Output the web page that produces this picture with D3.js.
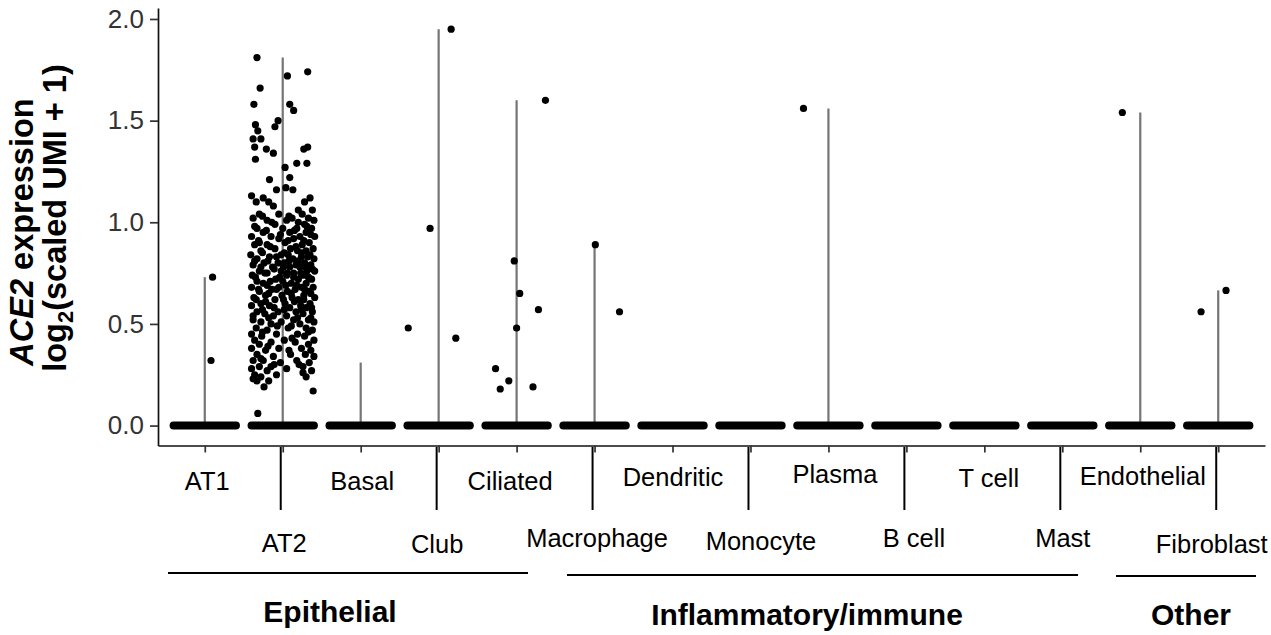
<!DOCTYPE html>
<html><head><meta charset="utf-8">
<script src="https://cdn.jsdelivr.net/npm/d3@7"></script>
<style>body{margin:0;background:#fff} svg{display:block}</style>
</head><body><svg id="c" width="1271" height="635"></svg>
<script>
// ---------------- DATA ----------------
const categories = ["AT1","AT2","Basal","Club","Ciliated","Macrophage","Dendritic","Monocyte","Plasma","B cell","T cell","Mast","Endothelial","Fibroblast"];
// height of the (degenerate) violin = max expression in each cell type
const violinMax = [0.73,1.81,0.31,1.95,1.60,0.89,0,0,1.56,0,0,0,1.54,0.665];
const yTicks = [0,0.5,1,1.5,2];
const groupNames = ["Epithelial","Inflammatory/immune","Other"];
const yTitle1 = ["ACE2"," expression"];
const yTitle2 = ["log","2","(scaled UMI + 1)"];
// non-zero cells: [jitter (fraction of band), value]
const at2Points = [
[-0.33,1.81],[0.06,1.72],[0.32,1.74],[-0.29,1.66],[-0.37,1.58],[0.09,1.58],[0.14,1.55],[-0.35,1.48],[-0.32,1.45],[-0.06,1.50],
[-0.10,1.47],[-0.38,1.41],[-0.28,1.41],[-0.36,1.37],[-0.21,1.36],[-0.12,1.34],[0.27,1.36],[0.32,1.37],[-0.35,1.31],[0.18,1.29],
[0.31,1.29],[0.03,1.27],[-0.17,1.21],[0.09,1.22],[-0.08,1.16],[0.04,1.17],[0.13,1.16],[-0.40,1.13],[-0.34,1.10],[-0.25,1.12],
[-0.18,1.10],[0.28,1.10],[0.35,1.12],[-0.12,1.08],[0.20,1.06],[0.38,1.06],
[-0.30,1.04],[-0.05,1.04],[0.25,1.04],[-0.38,1.02],[0.12,1.02],[0.33,1.02],[-0.20,1.01],[0.05,1.01],[0.40,1.01],[-0.10,0.99],[0.28,0.99],
[-0.33,0.97],[0.00,0.97],[0.18,0.97],[0.37,0.97],[-0.25,0.95],[0.09,0.95],[0.30,0.95],[-0.40,0.93],[-0.15,0.93],[0.22,0.93],[0.41,0.93],
[-0.05,0.92],[0.14,0.92],[-0.30,0.90],[0.03,0.90],[0.34,0.90],[-0.20,0.89],[0.25,0.89],[-0.36,0.89],[-0.10,0.87],[0.10,0.87],[0.39,0.87],
[-0.28,0.86],[0.19,0.86],[0.30,0.86],[-0.41,0.84],[-0.02,0.84],[0.07,0.84],[0.35,0.84],[-0.17,0.83],[0.24,0.83],[-0.33,0.82],[0.13,0.82],[0.40,0.82],
[-0.24,0.80],[-0.06,0.80],[0.02,0.80],[0.28,0.80],[-0.38,0.79],[0.17,0.79],[0.36,0.79],[-0.13,0.78],[0.09,0.78],[0.22,0.78],
[-0.30,0.76],[-0.02,0.76],[0.31,0.76],[0.41,0.76],[-0.20,0.75],[0.14,0.75],[-0.39,0.74],[0.05,0.74],[0.26,0.74],[-0.09,0.72],[0.20,0.72],[0.37,0.72],
[-0.33,0.71],[-0.16,0.71],[0.00,0.71],[-0.25,0.70],[0.11,0.70],[0.30,0.70],[-0.40,0.68],[-0.05,0.68],[0.24,0.68],[0.39,0.68],[-0.14,0.67],[0.16,0.67],
[-0.30,0.66],[0.06,0.66],[0.33,0.66],[-0.22,0.64],[-0.01,0.64],[0.27,0.64],[-0.37,0.63],[0.12,0.63],[0.41,0.63],[-0.10,0.62],[0.20,0.62],
[-0.28,0.60],[0.03,0.60],[0.35,0.60],[-0.40,0.59],[-0.17,0.59],[0.23,0.59],[0.09,0.58],[0.30,0.58],[-0.33,0.56],[-0.06,0.56],[0.17,0.56],[0.38,0.56],
[-0.23,0.55],[0.26,0.55],[-0.12,0.54],[0.05,0.54],[-0.38,0.52],[0.14,0.52],[0.33,0.52],[-0.28,0.51],[-0.02,0.51],[0.40,0.51],[-0.15,0.50],[0.22,0.50],
[-0.34,0.48],[0.07,0.48],[0.30,0.48],[-0.20,0.47],[0.38,0.47],[-0.40,0.45],[-0.08,0.45],[0.19,0.45],[-0.27,0.44],[0.28,0.44],[-0.36,0.42],[0.02,0.42],[0.40,0.42],
[-0.15,0.41],[0.16,0.41],[-0.30,0.40],[0.33,0.40],[-0.40,0.38],[-0.05,0.38],[0.24,0.38],[-0.22,0.37],[0.36,0.37],[-0.33,0.35],[0.10,0.35],[0.29,0.35],
[-0.12,0.34],[0.40,0.34],[-0.38,0.32],[-0.25,0.32],[0.18,0.32],[-0.03,0.31],[0.34,0.31],[-0.30,0.29],[-0.15,0.29],[0.26,0.29],[-0.40,0.28],[0.05,0.28],
[-0.20,0.27],[0.37,0.27],[-0.36,0.25],[-0.08,0.25],[0.30,0.24],[-0.28,0.24],[0.26,0.26],[-0.33,0.22],[-0.18,0.22],[-0.24,0.19],[0.39,0.17],[-0.32,0.06],
[-0.26,1.03],[0.08,1.03],[-0.14,1.00],[0.20,1.00],[-0.36,0.98],[0.31,0.98],[-0.21,0.96],[0.15,0.96],[-0.03,0.94],[0.36,0.94],[-0.31,0.91],[0.07,0.91],
[0.27,0.91],[-0.16,0.88],[0.17,0.88],[-0.26,0.85],[0.02,0.85],[0.24,0.85],[-0.08,0.83],[0.32,0.83],[-0.36,0.81],[-0.19,0.81],[0.08,0.81],[0.20,0.81],
[-0.28,0.78],[0.01,0.78],[0.29,0.78],[-0.11,0.77],[0.38,0.77],[-0.23,0.75],[0.06,0.75],[0.23,0.75],[-0.35,0.73],[-0.04,0.73],[0.14,0.73],[0.33,0.73],
[-0.20,0.69],[0.04,0.69],[0.18,0.69],[-0.31,0.67],[-0.08,0.67],[0.28,0.67],[-0.18,0.65],[0.11,0.65],[0.36,0.65],[-0.34,0.62],[0.01,0.62],[0.27,0.62],
[-0.22,0.61],[0.15,0.61],[-0.11,0.58],[0.37,0.58],[-0.26,0.57],[0.02,0.57],[0.24,0.57],[-0.38,0.54],[-0.18,0.53],[0.19,0.53],[0.36,0.53],[-0.07,0.49],
[0.11,0.49],[-0.26,0.46],[0.33,0.46],[0.12,0.43],[-0.19,0.39],[0.08,0.37],[-0.28,0.33],[0.21,0.30],[-0.11,0.30],[-0.38,0.23]
];
const otherPoints = [
["AT1",0.10,0.73],["AT1",0.08,0.32],
["Club",0.16,1.95],["Club",-0.11,0.97],["Club",-0.39,0.48],["Club",0.22,0.43],
["Ciliated",0.37,1.60],["Ciliated",-0.03,0.81],["Ciliated",0.04,0.65],["Ciliated",0.28,0.57],["Ciliated",0.00,0.48],
["Ciliated",-0.27,0.28],["Ciliated",-0.10,0.22],["Ciliated",-0.21,0.18],["Ciliated",0.21,0.19],
["Macrophage",0.01,0.89],["Macrophage",0.32,0.56],
["Plasma",-0.32,1.56],
["Endothelial",-0.23,1.54],
["Fibroblast",0.10,0.665],["Fibroblast",-0.22,0.56]
];
const points = at2Points.map(p => ["AT2", p[0], p[1]]).concat(otherPoints);

// ---------------- LAYOUT (annotation placement) ----------------
const labelDx = [2,1,1,-2,-7,2,0,10,6,7,4,0,2,-7];
const labelBaseline = [490,552,490,553,490,547,486,550,483,547,487,547,485,553];
const groupLayout = [
  {x0:168, x1:528, ly:573, tx:330, ty:622},
  {x0:567, x1:1078, ly:575, tx:807, ty:625},
  {x0:1116, x1:1256, ly:576, tx:1191, ty:625}
];

// ---------------- DRAW ----------------
const font = "'Liberation Sans', Arial, Helvetica, sans-serif";
const svg = d3.select("#c").style("font-family", font);
const x = d3.scalePoint().domain(categories).range([158,1265]).padding(0.6);
const step = x.step();
const y = d3.scaleLinear().domain([-0.098,2.054]).range([445.5,8]);

// violins (degenerate, thin vertical lines)
svg.append("g").selectAll("line")
  .data(categories.map((c,i)=>({c, m:violinMax[i]})).filter(d=>d.m>0))
  .join("line")
  .attr("x1", d=>x(d.c)).attr("x2", d=>x(d.c))
  .attr("y1", y(0)).attr("y2", d=>y(d.m))
  .attr("stroke","#757575").attr("stroke-width",2.2);

// zero-valued cells: dense jittered row at 0
svg.append("g").selectAll("line")
  .data(categories)
  .join("line")
  .attr("x1", d=>x(d)-0.4*step).attr("x2", d=>x(d)+0.4*step)
  .attr("y1", y(0)).attr("y2", y(0))
  .attr("stroke","#000").attr("stroke-width",8).attr("stroke-linecap","round");

// non-zero cells
svg.append("g").selectAll("circle")
  .data(points)
  .join("circle")
  .attr("cx", d=>x(d[0]) + d[1]*step)
  .attr("cy", d=>y(d[2]))
  .attr("r", 3.6)
  .attr("fill","#000");

// y axis
const gy = svg.append("g").attr("transform","translate(158,0)")
  .call(d3.axisLeft(y).tickValues(yTicks).tickFormat(d3.format(".1f")).tickSize(8).tickSizeOuter(0).tickPadding(6));
gy.select(".domain").attr("stroke","#111").attr("stroke-width",1.7);
gy.selectAll(".tick line").attr("stroke","#333").attr("stroke-width",1.7);
gy.selectAll(".tick text").attr("font-size",26).attr("fill","#333").attr("font-family",font);

// x axis
const gx = svg.append("g").attr("transform","translate(0,445.5)")
  .call(d3.axisBottom(x).tickSize(7).tickSizeOuter(0));
gx.select(".domain").attr("stroke","#111").attr("stroke-width",1.7);
gx.selectAll(".tick line").attr("stroke","#333").attr("stroke-width",1.7);
gx.selectAll(".tick text")
  .attr("font-size",25.5).attr("fill","#000").attr("font-family",font)
  .attr("dy",0)
  .attr("y",(d,i)=>labelBaseline[i]-445.5)
  .attr("dx",(d,i)=>labelDx[i]);

// long leader ticks for second-row labels
svg.append("g").selectAll("line")
  .data(categories.filter((c,i)=>i%2===1))
  .join("line")
  .attr("x1", d=>x(d)-2).attr("x2", d=>x(d)-2)
  .attr("y1", 447).attr("y2", 510)
  .attr("stroke","#000").attr("stroke-width",2);

// group brackets
const gg = svg.append("g");
gg.selectAll("line").data(groupLayout).join("line")
  .attr("x1",d=>d.x0).attr("x2",d=>d.x1).attr("y1",d=>d.ly).attr("y2",d=>d.ly)
  .attr("stroke","#000").attr("stroke-width",2);
gg.selectAll("text").data(groupLayout).join("text")
  .attr("x",d=>d.tx).attr("y",d=>d.ty)
  .attr("text-anchor","middle").attr("font-weight","bold").attr("font-size",30)
  .text((d,i)=>groupNames[i]);

// y title
const t1 = svg.append("text").attr("transform","translate(33,232) rotate(-90)")
  .attr("text-anchor","middle").attr("font-weight","bold").attr("font-size",32.5);
t1.append("tspan").attr("font-style","italic").text(yTitle1[0]);
t1.append("tspan").text(yTitle1[1]);
const t2 = svg.append("text").attr("transform","translate(66,218) rotate(-90)")
  .attr("text-anchor","middle").attr("font-weight","bold").attr("font-size",32.5);
t2.append("tspan").text(yTitle2[0]);
t2.append("tspan").attr("font-size",22).attr("dy",7).text(yTitle2[1]);
t2.append("tspan").attr("dy",-7).text(yTitle2[2]);
</script></body></html>
